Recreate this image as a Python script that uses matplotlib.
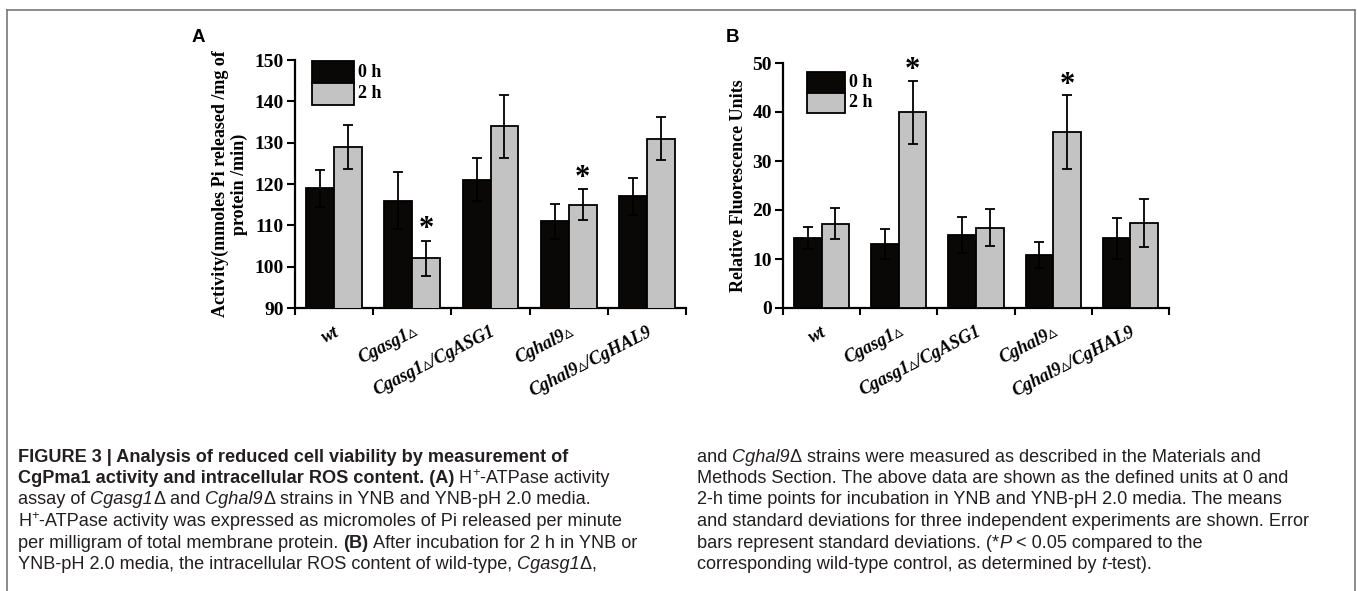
import matplotlib
matplotlib.use('Agg')
import matplotlib.pyplot as plt
from matplotlib.patches import Rectangle
from matplotlib.lines import Line2D
import numpy as np

# ---------------- data ----------------
categories = ['wt', 'Cgasg1\u25b5', 'Cgasg1\u25b5/CgASG1', 'Cghal9\u25b5', 'Cghal9\u25b5/CgHAL9']
series_labels = ['0 h', '2 h']

a_0h = [119, 116, 121, 111, 117]
a_0h_err = [4.5, 6.8, 5.2, 4.2, 4.5]
a_2h = [129, 102, 134, 115, 131]
a_2h_err = [5.3, 4.3, 7.6, 3.7, 5.3]
a_sig = [False, True, False, True, False]
a_yticks = [90, 100, 110, 120, 130, 140, 150]

b_0h = [14.3, 13.1, 14.9, 10.8, 14.2]
b_0h_err = [2.3, 3.0, 3.6, 2.6, 4.2]
b_2h = [17.2, 39.9, 16.4, 35.9, 17.3]
b_2h_err = [3.2, 6.4, 3.8, 7.5, 4.9]
b_sig = [False, True, False, True, False]
b_yticks = [0, 10, 20, 30, 40, 50]

a_ylabel = 'Activity(mmoles Pi released /mg of\nprotein /min)'
b_ylabel = 'Relative Fluorescence Units'

# ---------------- figure ----------------
W, H = 1357, 591
fig = plt.figure(figsize=(W / 100, H / 100), dpi=100)
SERIF = ['Liberation Serif', 'DejaVu Serif', 'DejaVu Sans']
BLACK = '#0a0806'
GRAY = '#c3c3c3'


def px_axes(l, t, r, b):
    return fig.add_axes([l / W, 1 - b / H, (r - l) / W, (b - t) / H])


def draw_panel(ax, v0, e0, v1, e1, sig, yticks, ylabel, label_x, legend_box, star_off):
    x = np.arange(len(categories))
    w = 0.357
    ekw = dict(ecolor='black', elinewidth=1.3, capsize=3.8, capthick=1.3, zorder=4)
    ax.bar(x - w / 2, v0, w, yerr=e0, color=BLACK, edgecolor='black', linewidth=1.3,
           error_kw=ekw, label=series_labels[0], zorder=3)
    ax.bar(x + w / 2, v1, w, yerr=e1, color=GRAY, edgecolor='black', linewidth=1.3,
           error_kw=ekw, label=series_labels[1], zorder=3)
    for i in range(len(categories)):
        if sig[i]:
            ax.text(x[i] + w / 2, v1[i] + e1[i] + star_off, '*', ha='center', va='center',
                    family=SERIF, weight='bold', size=22, zorder=5)
    ax.set_xlim(-0.5, len(categories) - 0.5)
    ax.set_ylim(yticks[0], yticks[-1])
    ax.set_yticks(yticks)
    ax.set_yticklabels([str(t) for t in yticks], family=SERIF, weight='bold', size=14)
    ax.set_xticks(x)
    ax.set_xticklabels(categories, rotation=27, ha='right', va='top', rotation_mode='anchor',
                       family=['Liberation Serif', 'DejaVu Sans'], weight='bold', style='italic', size=13)
    ax.set_xticks(np.arange(-0.5, len(categories)), minor=True)
    ax.tick_params(axis='x', which='major', length=0, pad=11)
    ax.tick_params(axis='x', which='minor', length=5, width=1.5, direction='out')
    ax.tick_params(axis='y', which='major', length=6, width=1.5, direction='out', pad=2)
    for s in ['top', 'right']:
        ax.spines[s].set_visible(False)
    for s in ['left', 'bottom']:
        ax.spines[s].set_linewidth(1.6)
    ax.set_ylabel(ylabel, family=SERIF, weight='bold', size=13, linespacing=1.1,
                  multialignment='center')
    ax.yaxis.set_label_coords(label_x, 0.5)
    lx0, lx1, yt, ym, yb, tx = legend_box
    ax.add_patch(Rectangle((lx0, ym), lx1 - lx0, yt - ym, transform=ax.transAxes,
                           facecolor=BLACK, edgecolor='black', lw=1.3, clip_on=False, zorder=6))
    ax.add_patch(Rectangle((lx0, yb), lx1 - lx0, ym - yb, transform=ax.transAxes,
                           facecolor=GRAY, edgecolor='black', lw=1.3, clip_on=False, zorder=6))
    ax.text(tx, (yt + ym) / 2, series_labels[0], transform=ax.transAxes, va='center', ha='left',
            family=SERIF, weight='bold', size=13)
    ax.text(tx, (ym + yb) / 2, series_labels[1], transform=ax.transAxes, va='center', ha='left',
            family=SERIF, weight='bold', size=13)


axA = px_axes(295, 60, 686, 308)
axB = px_axes(783, 63, 1169, 308)

draw_panel(axA, a_0h, a_0h_err, a_2h, a_2h_err, a_sig, a_yticks, a_ylabel, -0.12,
           (0.0435, 0.151, 0.996, 0.907, 0.819, 0.162), 2.6)
draw_panel(axB, b_0h, b_0h_err, b_2h, b_2h_err, b_sig, b_yticks, b_ylabel, -0.092,
           (0.062, 0.161, 0.963, 0.878, 0.796, 0.172), 2.1)

fig.text(192 / W, 1 - 42 / H, 'A', family=['Liberation Sans', 'DejaVu Sans'], weight='bold', size=13.5,
         va='baseline', ha='left')
fig.text(726 / W, 1 - 42 / H, 'B', family=['Liberation Sans', 'DejaVu Sans'], weight='bold', size=13.5,
         va='baseline', ha='left')

# frame lines
fc = '#787878'
fig.add_artist(Line2D([7.3 / W, 1355.3 / W], [1 - 10 / H, 1 - 10 / H], color=fc, lw=1.2))
fig.add_artist(Line2D([7.3 / W, 7.3 / W], [1 - 10 / H, 0], color=fc, lw=1.2))
fig.add_artist(Line2D([1355.3 / W, 1355.3 / W], [1 - 10 / H, 0], color=fc, lw=1.2))

# ---------------- caption ----------------
left_lines = [
    [("FIGURE 3 | Analysis of reduced cell viability by measurement of", 'b')],
    [("CgPma1 activity and intracellular ROS content. (A)", 'b'), (" H", 'r'), ("+", 'sup'),
     ("-ATPase activity", 'r')],
    [("assay of ", 'r'), ("Cgasg1", 'i'), ("\u0394", 'r'), (" and ", 'r'), ("Cghal9", 'i'), ("\u0394", 'r'),
     (" strains in YNB and YNB-pH 2.0 media.", 'r')],
    [("H", 'r'), ("+", 'sup'), ("-ATPase activity was expressed as micromoles of Pi released per minute", 'r')],
    [("per milligram of total membrane protein. ", 'r'), ("(B)", 'b'), (" After incubation for 2 h in YNB or", 'r')],
    [("YNB-pH 2.0 media, the intracellular ROS content of wild-type, ", 'r'), ("Cgasg1", 'i'), ("\u0394", 'r'),
     (",", 'r')],
]
right_lines = [
    [("and ", 'r'), ("Cghal9", 'i'), ("\u0394", 'r'), (" strains were measured as described in the Materials and", 'r')],
    [("Methods Section. The above data are shown as the defined units at 0 and", 'r')],
    [("2-h time points for incubation in YNB and YNB-pH 2.0 media. The means", 'r')],
    [("and standard deviations for three independent experiments are shown. Error", 'r')],
    [("bars represent standard deviations. (*", 'r'), ("P", 'i'), (" < 0.05 compared to the", 'r')],
    [("corresponding wild-type control, as determined by ", 'r'), ("t", 'i'), ("-test).", 'r')],
]

renderer = fig.canvas.get_renderer()
CAP_FAM = ['Liberation Sans', 'DejaVu Sans']
CAP_COLOR = '#231f20'
cap_size = [12.0]


def seg_kw(st):
    size = cap_size[0]
    kw = dict(family=CAP_FAM, size=size, color=CAP_COLOR)
    dy = 0
    if st == 'b':
        kw['weight'] = 'bold'
    elif st == 'i':
        kw['style'] = 'italic'
    elif st == 'sup':
        kw['size'] = size * 0.72
        dy = size * 0.5
    return kw, dy


def seg_width(s, kw):
    t = fig.text(0, 0, 'x' + s + 'x', **kw)
    w1 = t.get_window_extent(renderer).width
    t.remove()
    t = fig.text(0, 0, 'xx', **kw)
    w0 = t.get_window_extent(renderer).width
    t.remove()
    return w1 - w0


def line_width(segs):
    return sum(seg_width(s, seg_kw(st)[0]) for s, st in segs)


def draw_line(x, y, segs):
    for s, st in segs:
        kw, dy = seg_kw(st)
        fig.text(x / W, 1 - (y - dy) / H, s, va='baseline', ha='left', **kw)
        x += seg_width(s, kw)


# fit caption size so the widest right-column line spans the reference width (697 -> 1310 px)
target = 613.0
cap_size[0] = cap_size[0] * target / line_width(right_lines[3])

baselines = [461.5, 483.0, 504.5, 526.0, 547.5, 569.0]
for yb, segs in zip(baselines, left_lines):
    draw_line(18, yb, segs)
for yb, segs in zip(baselines, right_lines):
    draw_line(697, yb, segs)

fig.savefig('out.png', dpi=100)
